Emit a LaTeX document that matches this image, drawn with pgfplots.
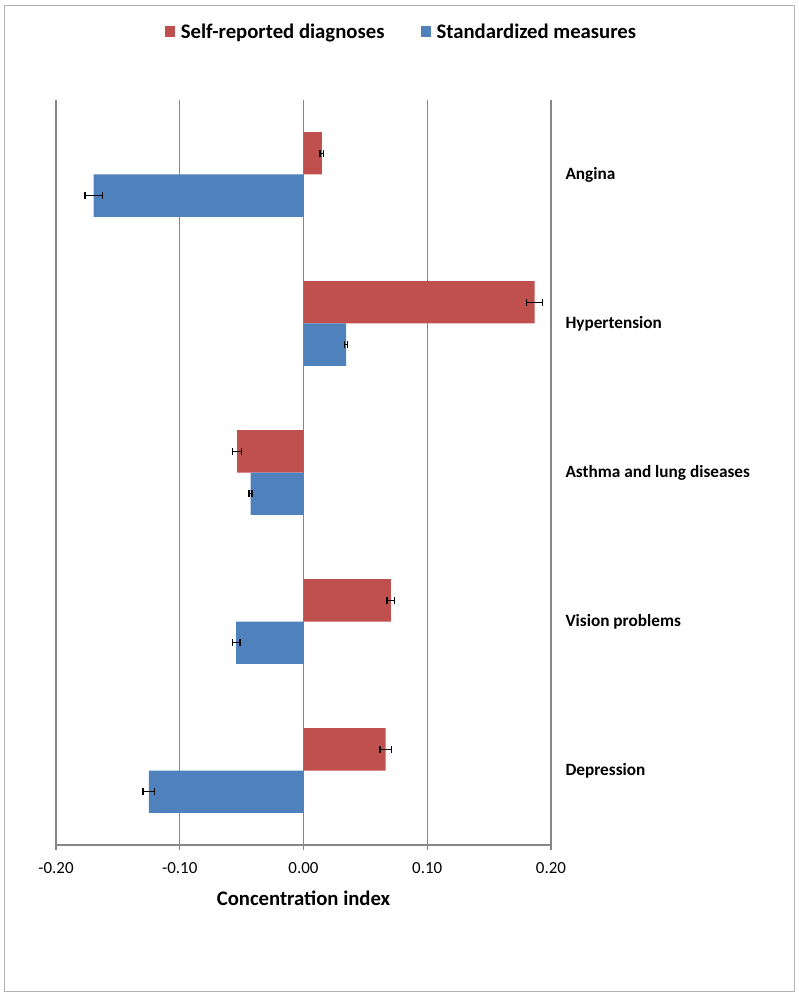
\documentclass[border=0pt]{standalone}
\usepackage{fontspec}
\setmainfont{Carlito}
\usepackage{pgfplots}
\usepackage{pgfplotstable}
\pgfplotsset{compat=1.18}
\definecolor{cred}{HTML}{C0504D}
\definecolor{cblue}{HTML}{4F81BD}
\definecolor{cgrid}{RGB}{134,134,134}
\pgfplotstableread{
y x err
0 0.0148 0.0015
1 0.1867 0.0067
2 -0.0536 0.0036
3 0.0706 0.0031
4 0.0663 0.0046
}\selfrep
\pgfplotstableread{
y x err
0 -0.1695 0.0071
1 0.0345 0.0012
2 -0.0428 0.0012
3 -0.0544 0.0032
4 -0.1250 0.0048
}\standard
\begin{document}
\begin{tikzpicture}[x=1bp,y=1bp]
\useasboundingbox (0,0) rectangle (799,998);
\draw[gray!60, line width=1bp] (4,6) rectangle (794,992);
\begin{axis}[at={(56bp,153bp)}, anchor=south west, scale only axis,
  width=495bp, height=745bp,
  xmin=-0.2, xmax=0.2, ymin=-0.5, ymax=4.5, y dir=reverse,
  xtick={-0.2,-0.1,0,0.1,0.2}, xticklabels={-0.20,-0.10,0.00,0.10,0.20},
  ytick={0,1,2,3,4},
  yticklabels={Angina,Hypertension,Asthma and lung diseases,Vision problems,Depression},
  yticklabel pos=right,
  ytick style={draw=none},
  y tick label style={anchor=west, font=\fontsize{17.3}{20}\selectfont\bfseries, xshift=11bp},
  x tick label style={font=\fontsize{17}{20}\selectfont, yshift=-9bp},
  xlabel={Concentration index},
  xlabel style={font=\fontsize{20.8}{25}\selectfont\bfseries, yshift=0bp},
  axis x line*=bottom, axis y line*=right,
  y axis line style={draw=none},
  x axis line style={cgrid, line width=1.3bp},
  xtick align=outside, major tick length=5bp,
  xtick style={cgrid, line width=1.3bp},
  xmajorgrids, grid style={cgrid, line width=1.3bp},
  extra x ticks={-0.2}, extra x tick labels={}, extra x tick style={grid=major},
  legend style={draw=none, at={(0.697,1.091)}, anchor=center,
    font=\fontsize{20.8}{25}\selectfont\bfseries, legend columns=2,
    /tikz/every even column/.append style={column sep=33bp}},
  legend image code/.code={\fill[#1] (0bp,-5bp) rectangle (10bp,6bp); \path (-1bp,0bp) (14bp,0bp);},
  clip=false,
]
\addplot[xbar, bar width=0.285, bar shift=0pt, fill=cred, draw=none,
  error bars/.cd, x dir=both, x explicit, error mark=|,
  error bar style={black, line width=1.3bp},
  error mark options={black, mark size=3.5bp, line width=1.3bp}]
  table[x=x, y expr=\thisrow{y}-0.1425, x error=err]{\selfrep};
\addlegendentry{Self-reported diagnoses}
\addplot[xbar, bar width=0.285, bar shift=0pt, fill=cblue, draw=none,
  error bars/.cd, x dir=both, x explicit, error mark=|,
  error bar style={black, line width=1.3bp},
  error mark options={black, mark size=3.5bp, line width=1.3bp}]
  table[x=x, y expr=\thisrow{y}+0.1425, x error=err]{\standard};
\addlegendentry{Standardized measures}
\end{axis}
\end{tikzpicture}
\end{document}
